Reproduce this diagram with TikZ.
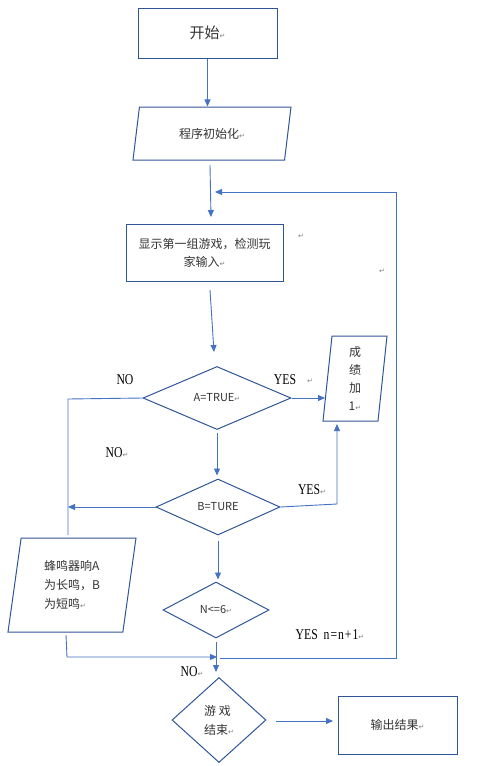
\documentclass[tikz,border=0pt]{standalone}
\usepackage{fontspec}
\newfontfamily\cjk{Noto Sans CJK SC}
\newfontfamily\lblfont[FakeStretch=0.78]{Liberation Serif}
\newfontfamily\symfont{DejaVu Sans}
\usetikzlibrary{shapes.geometric,arrows.meta}
\definecolor{lineblue}{HTML}{4472C4}
\definecolor{edgeblue}{HTML}{2F5597}
\newcommand{\ret}{{\symfont\fontsize{7}{7}\selectfont\color{gray}↵}}

\begin{document}
\begin{tikzpicture}[x=1pt,y=-1pt,>={Triangle[length=7pt,width=6pt]}]
\tikzstyle{box} = [rectangle, draw=edgeblue, line width=1pt, inner sep=0pt, text=black!80, font=\cjk\fontsize{12}{18}\selectfont]
\tikzstyle{para} = [box, trapezium, trapezium stretches body]
\tikzstyle{dia} = [box, diamond, font=\cjk\fontsize{11}{19}\selectfont]
\tikzstyle{e} = [draw=lineblue, line width=0.9pt]
\tikzstyle{lbl} = [inner sep=0pt, text=black, font=\lblfont\fontsize{15}{15}\selectfont]
\useasboundingbox (0,0) rectangle (489,766);

\node[box, minimum width=139, minimum height=50] (start) at (207.5,33) {\fontsize{15}{18}\selectfont 开始\ret};
\node[para, trapezium left angle=60, trapezium right angle=120, minimum width=158, minimum height=53] (init) at (212,133.5) {程序初始化\ret};
\node[box, minimum width=157, minimum height=57, align=center] (show) at (204.5,252.5) {显示第一组游戏，检测玩\\家输入\ret};
\node[dia, minimum width=148, minimum height=63] (isa) at (217,398) {A=TRUE\ret};
\node[para, trapezium left angle=82, trapezium right angle=98, minimum width=64, minimum height=85, align=center] (score) at (355,378.5) {成\\绩\\加\\1\ret};
\node[dia, minimum width=124, minimum height=56] (isb) at (218,507) {B=TURE};
\node[para, trapezium left angle=75, trapezium right angle=105, minimum width=128, minimum height=94, align=left, font=\cjk\fontsize{12}{19}\selectfont] (buzz) at (72,585) {蜂鸣器响A\\为长鸣，B\\为短鸣\ret};
\node[dia, minimum width=106, minimum height=56] (isn) at (216,610) {N<=6\ret};
\node[dia, minimum width=94, minimum height=85, align=left, font=\cjk\fontsize{12}{19}\selectfont] (over) at (219,720) {游 戏\\结束\ret};
\node[box, minimum width=119, minimum height=58] (out) at (397.5,725) {输出结果\ret};

\node[lbl] (noa) at (125,380) {NO};
\node[lbl] (yesa) at (285,380) {YES};
\node[inner sep=0pt] (ra) at (310,381) {\ret};
\node[lbl] (nob) at (117,453) {NO\ret};
\node[lbl] (yesb) at (312,490) {YES\ret};
\node[lbl] (yesn) at (330,635) {YES\ \ n\kern1pt=\kern1pt n\kern1pt+\kern1pt1\ret};
\node[lbl] (non) at (192,672) {NO\ret};
\node[inner sep=0pt] (rs) at (301,236) {\ret};
\node[inner sep=0pt] (rt) at (382,271) {\ret};

\coordinate (i1) at (210,165);
\coordinate (i2) at (211,217);
\coordinate (sh1) at (210,290);
\coordinate (sh2) at (214,352);
\coordinate (s1) at (325,398);
\coordinate (na1) at (68,399);
\coordinate (na2) at (68,535);
\coordinate (nb1) at (68,507);
\coordinate (yb1) at (337,504);
\coordinate (yb2) at (337,424);
\coordinate (bz1) at (66,635);
\coordinate (bz2) at (67,657);
\coordinate (bz3) at (217,657);
\coordinate (loopa) at (220,658);
\coordinate (loopb) at (396,658);
\coordinate (loopc) at (396,192);
\coordinate (loopd) at (215,192);
\coordinate (ne1) at (276,721);
\coordinate (ne2) at (333,721);

\draw[e,->] (start.south) -- (start.south |- init.north);
\draw[e,->] (i1) -- (i2);
\draw[e,->] (sh1) -- (sh2);
\draw[e,->] (isa.east) -- (s1);
\draw[e] (isa.west) -- (na1) -- (na2);
\draw[e,->,shorten <=3pt,shorten >=3pt] (isa.south) -- (isa.south |- isb.north);
\draw[e,->] (isb.west) -- (nb1);
\draw[e,->] (isb.east) -- (yb1) -- (yb2);
\draw[e,->,shorten <=5pt,shorten >=2pt] (isb.south) -- (isb.south |- isn.north);
\draw[e,->] (bz1) -- (bz2) -- (bz3);
\draw[e,->] (loopa) -- (loopb) -- (loopc) -- (loopd);
\draw[e,->,shorten <=3pt,shorten >=5pt] (isn.south) -- (isn.south |- over.north);
\draw[e,->] (ne1) -- (ne2);
\end{tikzpicture}
\end{document}
